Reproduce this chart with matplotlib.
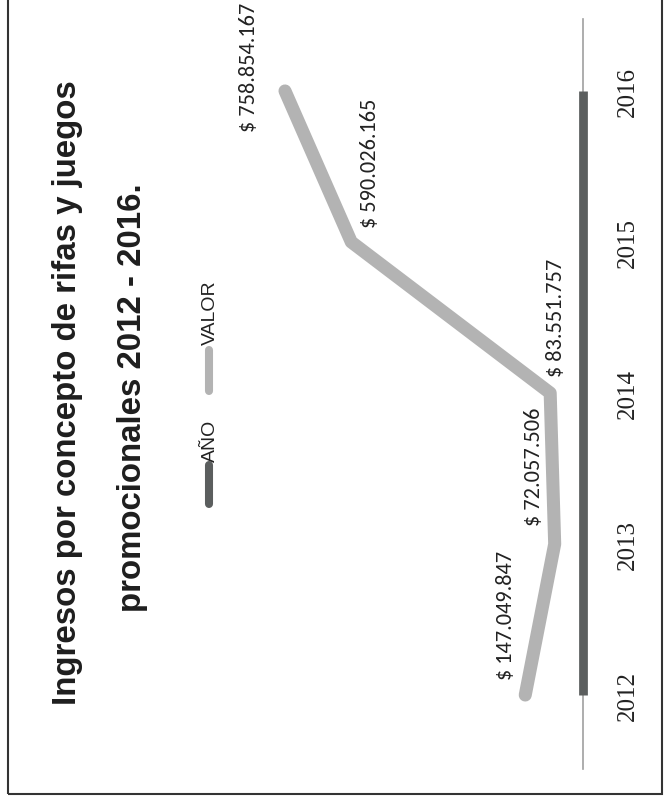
import matplotlib
matplotlib.use("Agg")
import matplotlib.pyplot as plt
from matplotlib import font_manager
from matplotlib.lines import Line2D
from matplotlib.patches import Rectangle

# data
years = [2012, 2013, 2014, 2015, 2016]
valor = [147049847, 72057506, 83551757, 590026165, 758854167]
anio = [2012, 2013, 2014, 2015, 2016]
series_names = ["AÑO", "VALOR"]
title_lines = ["Ingresos por concepto de rifas y juegos",
               "promocionales 2012 - 2016."]

# label offsets (pixels) from each point, chart is printed sideways
label_offsets = [(-19, 81), (-21, 78), (6, 76), (19, 80), (-36, 25)]

available = {f.name for f in font_manager.fontManager.ttflist}
if "Liberation Sans Narrow" in available:
    title_font, title_size = "Liberation Sans Narrow", 29
    legend_font = "Liberation Sans Narrow"
    legend_size = 16
else:
    title_font, title_size = "Liberation Sans", 23.8
    legend_font = "Liberation Sans"
    legend_size = 14
label_font = "Carlito" if "Carlito" in available else "Liberation Sans"
label_size = 16 if label_font == "Carlito" else 14.5

W, H = 664, 804
fig = plt.figure(figsize=(W / 100, H / 100), dpi=100)
ax = fig.add_axes([0, 0, 1, 1])
ax.set_xlim(1484.6e6, -206.3e6)
ax.set_ylim(2011.285, 2016.609)
ax.axis("off")

valor_color = "#b3b3b3"
anio_color = "#5b5e5e"

# category axis line
ax.axvline(0, ymin=1 - 770 / H, ymax=1 - 20 / H, color="#a0a0a0", lw=1.2, zorder=1)

ax.plot(anio, years, color=anio_color, lw=6.3, solid_capstyle="butt", zorder=2)
ax.plot(valor, years, color=valor_color, lw=9.4, solid_capstyle="round",
        solid_joinstyle="round", zorder=3)

for v, yr, (dx, dy) in zip(valor, years, label_offsets):
    txt = "$ " + f"{v:,}".replace(",", ".")
    ax.annotate(txt, (v, yr), xytext=(dx, dy), textcoords="offset pixels",
                rotation=90, ha="center", va="center", fontsize=label_size,
                family=label_font, color="#222222")

# year tick labels
for yr in years:
    ax.text(628 / W, yr, str(yr), transform=ax.get_yaxis_transform(),
            rotation=90, ha="center", va="center", fontsize=18,
            family="Liberation Serif", color="#222222")

# title
ax.text(76 / W, 1 - 393 / H, title_lines[0], transform=ax.transAxes,
        rotation=90, rotation_mode="anchor", ha="center", va="baseline",
        fontsize=title_size, fontweight="bold", family=title_font, color="#1e1e1e")
ax.text(141 / W, 1 - 398 / H, title_lines[1], transform=ax.transAxes,
        rotation=90, rotation_mode="anchor", ha="center", va="baseline",
        fontsize=title_size, fontweight="bold", family=title_font, color="#1e1e1e")

# legend, drawn sideways
for name, col, (y0, y1, ty) in zip(series_names, [anio_color, valor_color],
                                   [(505, 466, 441), (392, 351, 313)]):
    ax.add_line(Line2D([209 / W, 209 / W], [1 - y0 / H, 1 - y1 / H], color=col,
                       lw=5.8, solid_capstyle="round", transform=ax.transAxes))
    ax.text(210 / W, 1 - ty / H, name, transform=ax.transAxes, rotation=90,
            ha="center", va="center", fontsize=legend_size, family=legend_font,
            color="#222222")

# frame of the printed page
ax.add_patch(Rectangle((8 / W, 1 - 795 / H), (662 - 8) / W, 1.0,
                       transform=ax.transAxes, fill=False, ec="#333333",
                       lw=1.5, clip_on=False))

fig.savefig("out.png", dpi=100, facecolor="white")
